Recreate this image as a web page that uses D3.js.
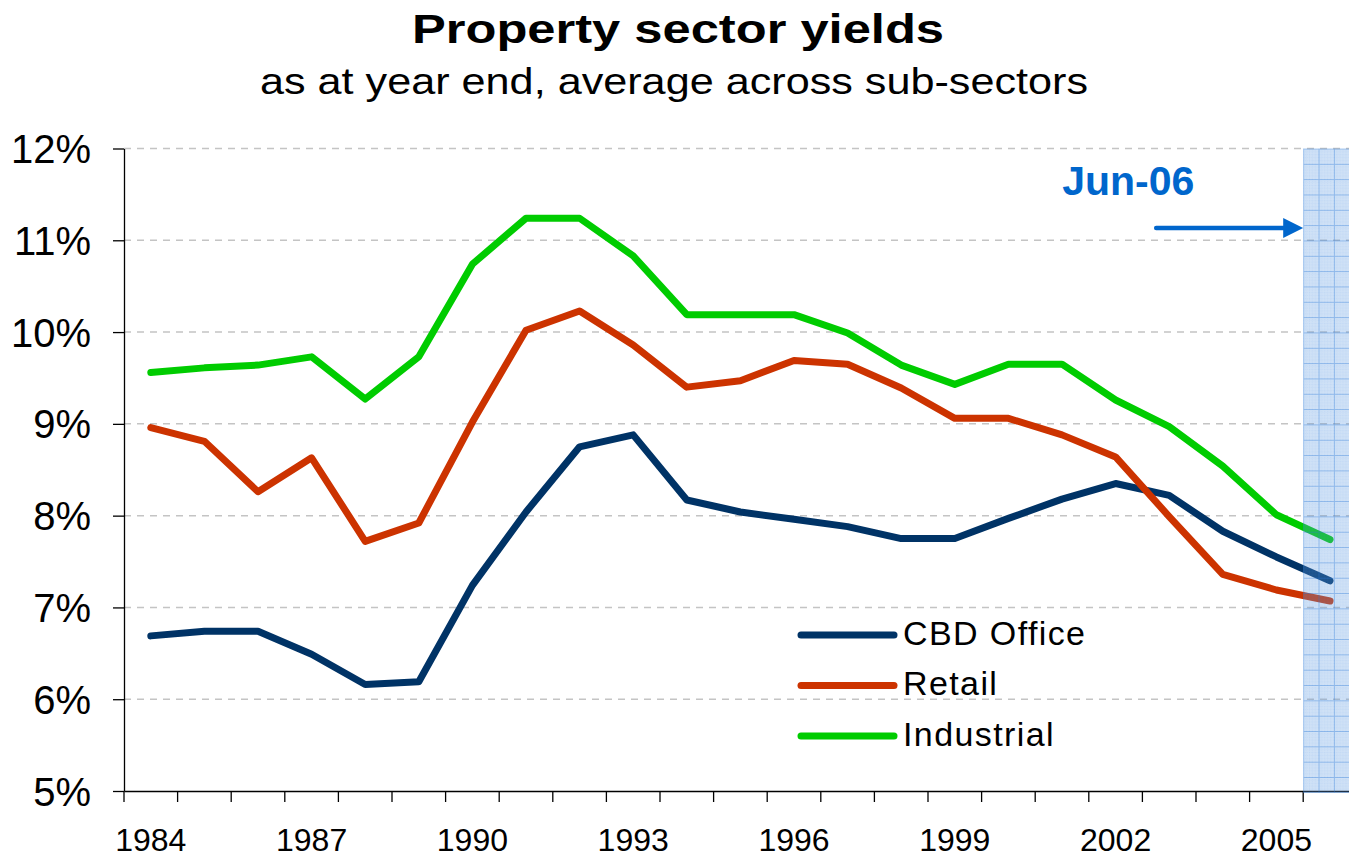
<!DOCTYPE html>
<html>
<head>
<meta charset="utf-8">
<script src="https://cdn.jsdelivr.net/npm/d3@7"></script>
<style>
  body { margin: 0; background: #fff; }
  svg { display: block; font-family: Arial, "Liberation Sans", sans-serif; }
</style>
</head>
<body>
<div id="container"></div>
<script>
/* DATA */
const years = [1984, 1985, 1986, 1987, 1988, 1989, 1990, 1991, 1992, 1993, 1994, 1995,
               1996, 1997, 1998, 1999, 2000, 2001, 2002, 2003, 2004, 2005, 2006];
const cbdOffice  = [6.69, 6.74, 6.74, 6.49, 6.16, 6.19, 7.24, 8.04, 8.75, 8.88, 8.17, 8.04,
                    7.96, 7.88, 7.75, 7.75, 7.97, 8.18, 8.35, 8.22, 7.83, 7.55, 7.29];
const retail     = [8.96, 8.81, 8.26, 8.63, 7.72, 7.92, 9.02, 10.02, 10.23, 9.86, 9.40, 9.47,
                    9.69, 9.65, 9.39, 9.06, 9.06, 8.88, 8.64, 7.99, 7.36, 7.19, 7.07];
const industrial = [9.56, 9.61, 9.64, 9.73, 9.27, 9.73, 10.74, 11.24, 11.24, 10.83, 10.19, 10.19,
                    10.19, 9.99, 9.64, 9.43, 9.65, 9.65, 9.26, 8.97, 8.54, 8.01, 7.74];
const seriesNames  = ["CBD Office", "Retail", "Industrial"];
const seriesColors = ["#003366", "#cc3300", "#00cc00"];
const yTicks = [5, 6, 7, 8, 9, 10, 11, 12];
const xTickLabels = [1984, 1987, 1990, 1993, 1996, 1999, 2002, 2005];
const markerYear = 2006;
const markerLabel = "Jun-06";

/* CONSTANTS */
const width = 1349;
const height = 858;
const plotLeft = 124, plotTop = 148.5, plotBottom = 791;
const step = 53.6;

const series = [cbdOffice, retail, industrial].map((vals, i) => ({
  name: seriesNames[i],
  color: seriesColors[i],
  values: years.map((yr, j) => ({ year: yr, value: vals[j] }))
}));

/* SCALES */
const xScale = d3.scaleBand()
  .domain(years)
  .range([plotLeft, plotLeft + step * years.length])
  .paddingInner(0).paddingOuter(0);
const bw = xScale.bandwidth();

const yScale = d3.scaleLinear()
  .domain([5, 12])
  .range([plotBottom, plotTop]);

/* SVG */
const svg = d3.select("#container")
  .append("svg")
  .attr("width", width)
  .attr("height", height);

// graph paper pattern for the Jun-06 band
const defs = svg.append("defs");
const cell = 15.33;
const pat = defs.append("pattern")
  .attr("id", "paper")
  .attr("patternUnits", "userSpaceOnUse")
  .attr("x", xScale(markerYear))
  .attr("y", plotTop)
  .attr("width", cell)
  .attr("height", cell);
pat.append("rect")
  .attr("width", cell).attr("height", cell)
  .attr("fill", "#5f9be4").attr("fill-opacity", 0.3);
for (let k = 1; k < 5; k++) {
  pat.append("path")
    .attr("d", `M0,${k * cell / 5}H${cell}M${k * cell / 5},0V${cell}`)
    .attr("stroke", "#3b82dc").attr("stroke-opacity", 0.12)
    .attr("stroke-width", 0.8).attr("stroke-dasharray", "1,1");
}
pat.append("path")
  .attr("d", `M0,0.5H${cell}M0.5,0V${cell}`)
  .attr("stroke", "#2a78d8").attr("stroke-opacity", 0.4)
  .attr("stroke-width", 1);

// gridlines
svg.append("g")
  .selectAll("line")
  .data(yTicks.filter(d => d > 5))
  .join("line")
  .attr("x1", plotLeft).attr("x2", width)
  .attr("y1", d => yScale(d)).attr("y2", d => yScale(d))
  .attr("stroke", "#c4c4c4")
  .attr("stroke-width", 1.5)
  .attr("stroke-dasharray", "7,6");

// y-axis
const yAxis = d3.axisLeft(yScale)
  .tickValues(yTicks)
  .tickFormat(d => d + "%")
  .tickSize(11)
  .tickSizeOuter(0)
  .tickPadding(22);
const yG = svg.append("g")
  .attr("transform", `translate(${plotLeft},0)`)
  .call(yAxis);
yG.select(".domain").attr("stroke", "#000").attr("stroke-width", 1.3);
yG.selectAll(".tick line").attr("stroke", "#000").attr("stroke-width", 1.3);
yG.selectAll(".tick text")
  .attr("font-size", 40)
  .attr("font-family", "Arial, 'Liberation Sans', sans-serif")
  .attr("fill", "#000")
  .attr("dy", "0.35em");

// x-axis (labels every third year, ticks at band edges)
const xAxis = d3.axisBottom(xScale)
  .tickSize(0)
  .tickPadding(37.5)
  .tickFormat(d => xTickLabels.includes(d) ? d : "");
const xG = svg.append("g")
  .attr("transform", `translate(0,${plotBottom})`)
  .call(xAxis);
xG.select(".domain").attr("stroke", "#000").attr("stroke-width", 1.3);
xG.selectAll(".tick text")
  .attr("font-size", 32)
  .attr("font-family", "Arial, 'Liberation Sans', sans-serif")
  .attr("fill", "#000");
svg.append("g")
  .selectAll("line")
  .data(years)
  .join("line")
  .attr("x1", d => xScale(d)).attr("x2", d => xScale(d))
  .attr("y1", plotBottom).attr("y2", plotBottom + 11)
  .attr("stroke", "#000")
  .attr("stroke-width", 1.3);

// lines
const line = d3.line()
  .x(d => xScale(d.year) + bw / 2)
  .y(d => yScale(d.value));

svg.append("g")
  .selectAll("path")
  .data(series)
  .join("path")
  .attr("d", d => line(d.values))
  .attr("fill", "none")
  .attr("stroke", d => d.color)
  .attr("stroke-width", 7)
  .attr("stroke-linejoin", "round")
  .attr("stroke-linecap", "round");

// shaded Jun-06 band
svg.append("rect")
  .attr("x", xScale(markerYear))
  .attr("y", plotTop)
  .attr("width", bw)
  .attr("height", plotBottom - plotTop + 2)
  .attr("fill", "url(#paper)");

// Jun-06 annotation
const mx = xScale(markerYear);
svg.append("text")
  .attr("x", mx - 241)
  .attr("y", 195)
  .attr("font-size", 41)
  .attr("font-weight", "bold")
  .attr("fill", "#0066cc")
  .text(markerLabel);
svg.append("line")
  .attr("x1", mx - 147).attr("x2", mx - 16)
  .attr("y1", 228).attr("y2", 228)
  .attr("stroke", "#0066cc")
  .attr("stroke-width", 4.5)
  .attr("stroke-linecap", "round");
svg.append("path")
  .attr("d", `M${mx},228 L${mx - 20},218 L${mx - 20},238 Z`)
  .attr("fill", "#0066cc");

// legend
const legend = svg.append("g")
  .selectAll("g")
  .data(series)
  .join("g")
  .attr("transform", (d, i) => `translate(801,${635 + i * 50.5})`);
legend.append("line")
  .attr("x1", 0).attr("x2", 93)
  .attr("stroke", d => d.color)
  .attr("stroke-width", 7)
  .attr("stroke-linecap", "round");
legend.append("text")
  .attr("x", 102)
  .attr("y", 9.5)
  .attr("font-size", 34)
  .attr("letter-spacing", "1.4px")
  .attr("fill", "#000")
  .text(d => d.name);

// title
svg.append("text")
  .attr("x", 678)
  .attr("y", 43)
  .attr("text-anchor", "middle")
  .attr("font-size", 41)
  .attr("font-weight", "bold")
  .attr("textLength", 532)
  .attr("lengthAdjust", "spacingAndGlyphs")
  .text("Property sector yields");

svg.append("text")
  .attr("x", 674)
  .attr("y", 94)
  .attr("text-anchor", "middle")
  .attr("font-size", 37)
  .attr("textLength", 828)
  .attr("lengthAdjust", "spacingAndGlyphs")
  .text("as at year end, average across sub-sectors");
</script>
</body>
</html>
